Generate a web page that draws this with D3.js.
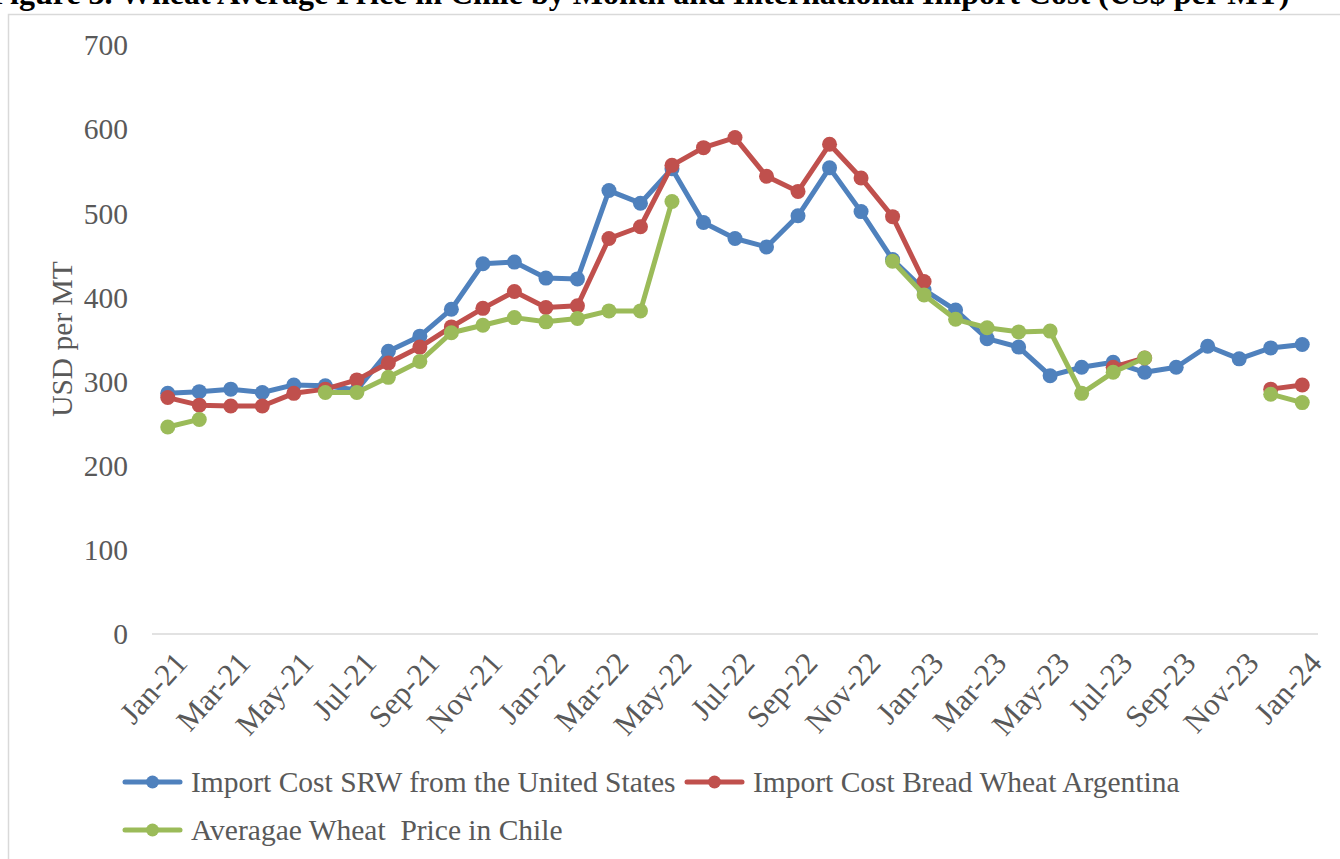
<!DOCTYPE html>
<html>
<head>
<meta charset="utf-8">
<script src="https://cdn.jsdelivr.net/npm/d3@7"></script>
<style>
  body { margin: 0; background: #fff; overflow: hidden; }
  svg { display: block; font-family: "Liberation Serif", "Times New Roman", serif; }
</style>
</head>
<body>
<div id="chart"></div>
<script>
// months Jan-21 .. Jan-24
const months = ["Jan-21","Feb-21","Mar-21","Apr-21","May-21","Jun-21","Jul-21","Aug-21","Sep-21","Oct-21","Nov-21","Dec-21",
  "Jan-22","Feb-22","Mar-22","Apr-22","May-22","Jun-22","Jul-22","Aug-22","Sep-22","Oct-22","Nov-22","Dec-22",
  "Jan-23","Feb-23","Mar-23","Apr-23","May-23","Jun-23","Jul-23","Aug-23","Sep-23","Oct-23","Nov-23","Dec-23","Jan-24"];

const usSRW = [286,288,291,287,296,295,290,336,354,386,440,442,
  423,422,527,512,553,489,470,460,497,554,502,445,
  409,385,351,341,307,317,323,311,317,342,327,340,
  344];
const argentina = [281,272,271,271,286,291,302,322,341,365,387,407,
  388,390,470,484,557,578,590,544,526,582,542,496,
  419,null,null,null,null,null,317,328,null,null,null,291,
  296];
const chile = [246,255,null,null,null,287,287,305,324,358,367,376,
  371,375,384,384,514,null,null,null,null,null,null,443,
  403,374,364,359,360,286,311,328,null,null,null,285,
  275];

const yTicks = [0,100,200,300,400,500,600,700];
const seriesNames = ["Import Cost SRW from the United States", "Import Cost Bread Wheat Argentina", "Averagae Wheat  Price in Chile"];
const colors = ["#4F81BD", "#C0504D", "#9BBB59"];
const titleText = "Figure 3. Wheat Average Price in Chile by Month and International Import Cost (US$ per MT)";

const W = 1340, H = 859;
const plotLeft = 152, plotRight = 1318, plotTop = 45, plotBottom = 634;
const fs = "29.5px";

const svg = d3.select("#chart").append("svg")
  .attr("width", W).attr("height", H);

// title, mostly cut off at the top (as in the source image)
svg.append("text")
  .attr("x", 640).attr("y", 4)
  .attr("text-anchor", "middle")
  .style("font-size", "32px").style("font-weight", "bold")
  .attr("fill", "#000")
  .text(titleText);

// chart frame
svg.append("rect")
  .attr("x", 8.5).attr("y", 14.5)
  .attr("width", W).attr("height", H)
  .attr("fill", "none").attr("stroke", "#D9D9D9").attr("stroke-width", 1.5);

const x = d3.scalePoint().domain(months).range([plotLeft, plotRight]).padding(0.5);
const y = d3.scaleLinear().domain([0, 700]).range([plotBottom, plotTop]);

// y tick labels
svg.append("g").selectAll("text")
  .data(yTicks).enter()
  .append("text")
  .attr("x", 128)
  .attr("y", d => y(d))
  .attr("dy", "0.35em")
  .attr("text-anchor", "end")
  .attr("fill", "#595959")
  .style("font-size", fs)
  .text(d => d);

// zero line
svg.append("line")
  .attr("x1", plotLeft).attr("x2", plotRight)
  .attr("y1", y(0)).attr("y2", y(0))
  .attr("stroke", "#D9D9D9").attr("stroke-width", 1.5);

// x tick labels, every second month
svg.append("g").selectAll("text")
  .data(months.filter((m, i) => i % 2 === 0)).enter()
  .append("text")
  .attr("transform", d => "translate(" + (x(d) + 13) + "," + (plotBottom + 23) + ") rotate(-48)")
  .attr("text-anchor", "end")
  .attr("dy", "0.35em")
  .attr("fill", "#595959")
  .style("font-size", "31px")
  .text(d => d);

// y axis title
svg.append("text")
  .attr("transform", "translate(62,339) rotate(-90)")
  .attr("text-anchor", "middle")
  .attr("dy", "0.35em")
  .attr("fill", "#595959")
  .style("font-size", fs)
  .text("USD per MT");

// series
const allSeries = [usSRW, argentina, chile];
const line = d3.line()
  .defined(d => d != null)
  .x((d, i) => x(months[i]))
  .y(d => y(d));

allSeries.forEach(function (vals, k) {
  const g = svg.append("g");
  g.append("path")
    .datum(vals)
    .attr("d", line)
    .attr("fill", "none")
    .attr("stroke", colors[k])
    .attr("stroke-width", 5)
    .attr("stroke-linejoin", "round")
    .attr("stroke-linecap", "round");
  g.selectAll("circle")
    .data(vals.map((v, i) => [months[i], v]).filter(d => d[1] != null))
    .enter().append("circle")
    .attr("cx", d => x(d[0]))
    .attr("cy", d => y(d[1]))
    .attr("r", 7.5)
    .attr("fill", colors[k]);
});

// legend
const legendPos = [[125, 782], [687, 782], [125, 830]];
seriesNames.forEach(function (name, k) {
  const lx = legendPos[k][0], ly = legendPos[k][1];
  const g = svg.append("g");
  g.append("line")
    .attr("x1", lx).attr("x2", lx + 55)
    .attr("y1", ly).attr("y2", ly)
    .attr("stroke", colors[k]).attr("stroke-width", 5)
    .attr("stroke-linecap", "round");
  g.append("circle")
    .attr("cx", lx + 27.5).attr("cy", ly).attr("r", 6.5)
    .attr("fill", colors[k]);
  g.append("text")
    .attr("x", lx + 66).attr("y", ly)
    .attr("dy", "0.35em")
    .attr("fill", "#595959")
    .style("font-size", fs)
    .style("white-space", "pre")
    .text(name);
});
</script>
</body>
</html>
